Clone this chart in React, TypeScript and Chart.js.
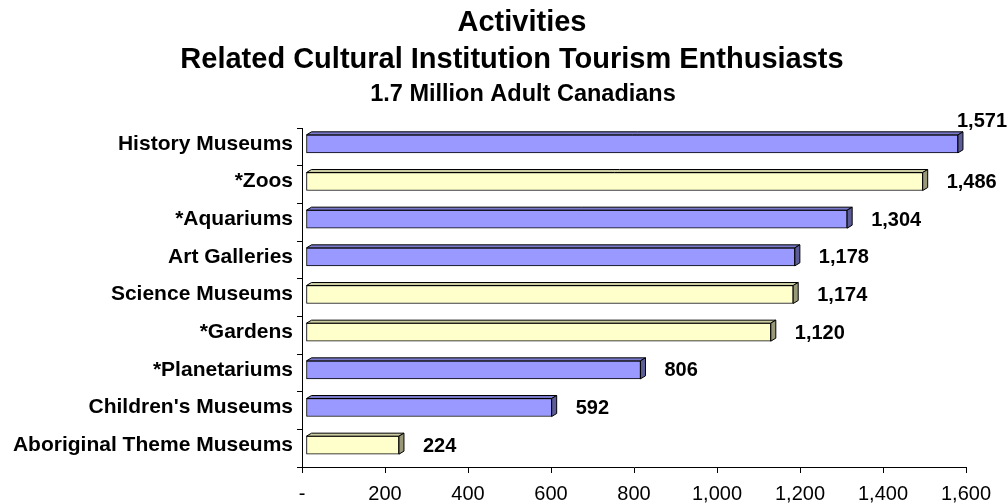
import React, { useEffect, useRef } from 'react';
import { Chart, registerables } from 'chart.js';

Chart.register(...registerables);

const categories = [
  'History Museums',
  '*Zoos',
  '*Aquariums',
  'Art Galleries',
  'Science Museums',
  '*Gardens',
  '*Planetariums',
  "Children's Museums",
  'Aboriginal Theme Museums',
];
const values = [1571, 1486, 1304, 1178, 1174, 1120, 806, 592, 224];
const barColors = ['#9999FF', '#FFFFCC', '#9999FF', '#9999FF', '#FFFFCC', '#FFFFCC', '#9999FF', '#9999FF', '#FFFFCC'];
const titleLines = ['Activities', 'Related Cultural Institution Tourism Enthusiasts', '1.7 Million Adult Canadians'];
const xMin = 0;
const xMax = 1600;
const xStep = 200;

const FONT = '"Liberation Sans", Arial, sans-serif';
const shade: Record<string, { top: string; side: string }> = {
  '#9999FF': { top: '#7A7ACC', side: '#5C5C99' },
  '#FFFFCC': { top: '#CCCCA3', side: '#99997A' },
};

const SHIFT_X = 4;
const SHIFT_Y = -3;
const DX = 5;
const DY = -3;

const titlePlugin = {
  id: 'titles',
  afterDraw(chart: any) {
    const ctx = chart.ctx;
    ctx.save();
    ctx.fillStyle = '#000';
    ctx.textAlign = 'center';
    ctx.textBaseline = 'alphabetic';
    ctx.font = `bold 29px ${FONT}`;
    ctx.fillText(titleLines[0], 522, 31);
    ctx.fillText(titleLines[1], 512, 68);
    ctx.font = `bold 23.5px ${FONT}`;
    ctx.fillText(titleLines[2], 523, 101);
    ctx.restore();
  },
};

const bar3dPlugin = {
  id: 'bar3d',
  beforeDatasetsDraw(chart: any) {
    chart.ctx.save();
    chart.ctx.translate(SHIFT_X, SHIFT_Y);
  },
  afterDatasetsDraw(chart: any) {
    const ctx = chart.ctx;
    const meta = chart.getDatasetMeta(0);
    ctx.lineWidth = 1;
    ctx.lineJoin = 'round';
    ctx.strokeStyle = '#000';
    const rects: any[] = [];
    meta.data.forEach((el: any, i: number) => {
      const { x, y, base, height } = el.getProps(['x', 'y', 'base', 'height'], true);
      const y0 = y - height / 2;
      const y1 = y + height / 2;
      const x0 = base;
      const x1 = x;
      const c = shade[barColors[i]];
      ctx.beginPath();
      ctx.moveTo(x0, y0);
      ctx.lineTo(x0 + DX, y0 + DY);
      ctx.lineTo(x1 + DX, y0 + DY);
      ctx.lineTo(x1, y0);
      ctx.closePath();
      ctx.fillStyle = c.top;
      ctx.fill();
      ctx.stroke();
      ctx.beginPath();
      ctx.moveTo(x1, y0);
      ctx.lineTo(x1 + DX, y0 + DY);
      ctx.lineTo(x1 + DX, y1 + DY);
      ctx.lineTo(x1, y1);
      ctx.closePath();
      ctx.fillStyle = c.side;
      ctx.fill();
      ctx.stroke();
      rects.push({ x1: x1 + SHIFT_X, yc: y + SHIFT_Y });
    });
    ctx.restore();

    ctx.save();
    ctx.font = `bold 20px ${FONT}`;
    ctx.fillStyle = '#000';
    ctx.textAlign = 'left';
    ctx.textBaseline = 'middle';
    const W = chart.width;
    rects.forEach((r, i) => {
      const txt = values[i].toLocaleString('en-US');
      const w = ctx.measureText(txt).width;
      let lx = r.x1 + 24;
      let ly = r.yc + 1;
      if (lx + w > W - 2) {
        lx = W - w - 1;
        ly = r.yc - 22;
      }
      ctx.fillText(txt, lx, ly);
    });
    ctx.restore();
  },
};

export default function App() {
  const ref = useRef<HTMLCanvasElement>(null);
  useEffect(() => {
    document.body.style.margin = '0';
    const canvas = ref.current!;
    const chart = new Chart(canvas, {
      type: 'bar',
      data: {
        labels: categories,
        datasets: [
          {
            data: values,
            backgroundColor: barColors,
            borderColor: '#000',
            borderWidth: 1,
            borderSkipped: false,
            barThickness: 18,
          },
        ],
      },
      options: {
        indexAxis: 'y',
        animation: false,
        responsive: false,
        maintainAspectRatio: false,
        layout: { padding: { top: 128, left: 0, right: 42, bottom: 0 } },
        plugins: {
          legend: { display: false },
          title: { display: false },
          tooltip: { enabled: false },
        },
        scales: {
          x: {
            min: xMin,
            max: xMax,
            afterFit: (s: any) => {
              s.height = 37;
            },
            ticks: {
              stepSize: xStep,
              color: '#000',
              padding: 9,
              font: { family: FONT, size: 20 },
              callback: (v: any) => (Number(v) === 0 ? '-' : Number(v).toLocaleString('en-US')),
              maxRotation: 0,
              autoSkip: false,
            },
            grid: { drawOnChartArea: false, color: '#000', tickLength: 6 },
            border: { color: '#000', width: 1 },
          },
          y: {
            afterFit: (s: any) => {
              s.width = 302;
            },
            ticks: {
              color: '#000',
              padding: 4,
              labelOffset: -3,
              font: { family: FONT, size: 21, weight: 'bold' },
              autoSkip: false,
            },
            grid: { offset: true, drawOnChartArea: false, color: '#000', tickLength: 5 },
            border: { color: '#000', width: 1 },
          },
        },
      },
      plugins: [bar3dPlugin, titlePlugin],
    } as any);
    return () => chart.destroy();
  }, []);
  return (
    <div style={{ width: 1008, height: 504 }}>
      <canvas ref={ref} width={1008} height={504} style={{ width: 1008, height: 504, display: 'block' }} />
    </div>
  );
}
